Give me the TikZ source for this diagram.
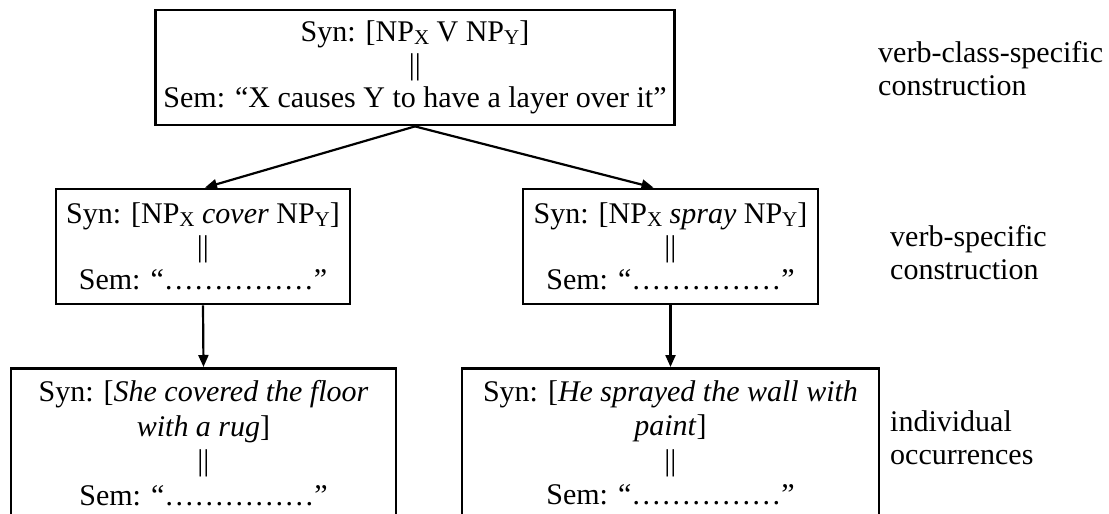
\documentclass[tikz,border=0pt]{standalone}
\usepackage{fontspec}
\setmainfont{Liberation Serif}
\usetikzlibrary{arrows.meta,positioning}

\tikzset{
  cxbox/.style={draw, line width=2.8pt, align=center, inner xsep=8pt, inner ysep=9pt,
    font=\fontsize{30}{33}\selectfont},
  cxlabel/.style={anchor=west, align=left, inner sep=0pt, font=\fontsize{30}{33}\selectfont},
  cxarrow/.style={-{Triangle[length=12pt,width=10pt]}, line width=2.2pt}
}
\newcommand{\np}[1]{NP\raisebox{-2.5pt}{\fontsize{21}{21}\selectfont #1}}

\begin{document}
\begin{tikzpicture}[x=1pt,y=-1pt]
        \useasboundingbox (0,0) rectangle (1109,514);
        \clip (0,0) rectangle (1109,514);
        \node[cxbox, minimum width=516pt, minimum height=115pt] (gen) at (415,67.5)
          {Syn: [\np{X} V \np{Y}]\\ ||\\ Sem: “X causes Y to have a layer over it”};
        \node[cxbox, minimum width=294pt, minimum height=115pt] (covc) at (203,246.5)
          {Syn: [\np{X} \textit{cover} \np{Y}]\\ ||\\ Sem: “……………”};
        \node[cxbox, minimum width=295pt, minimum height=115pt] (sprc) at (670.5,246.5)
          {Syn: [\np{X} \textit{spray} \np{Y}]\\ ||\\ Sem: “……………”};
        \node[cxbox, anchor=north, minimum width=385pt, text depth=30pt,
          font=\fontsize{30}{34.5}\selectfont, inner ysep=12pt] (covi) at (203.5,367)
          {Syn: [\textit{She covered the floor}\\ \textit{with a rug}]\\ ||\\ Sem: “……………”};
        \node[cxbox, anchor=north, minimum width=417pt, text depth=30pt,
          font=\fontsize{30}{34.5}\selectfont, inner ysep=12pt] (spri) at (670.5,367)
          {Syn: [\textit{He sprayed the wall with}\\ \textit{paint}]\\ ||\\ Sem: “……………”};
        \node[cxlabel] (lclass) at (878,69) {verb-class-specific\\construction};
        \node[cxlabel] (lverb) at (890,253) {verb-specific\\construction};
        \node[cxlabel] (linst) at (890,438) {individual\\occurrences};
        \draw[cxarrow] (gen.south) -- ([xshift=2pt]covc.north);
        \draw[cxarrow] (gen.south) -- ([xshift=-17pt]sprc.north);
        \draw[cxarrow] (covc.south) -- (covi.north);
        \draw[cxarrow] (sprc.south) -- (spri.north);
      \end{tikzpicture}
\end{document}
